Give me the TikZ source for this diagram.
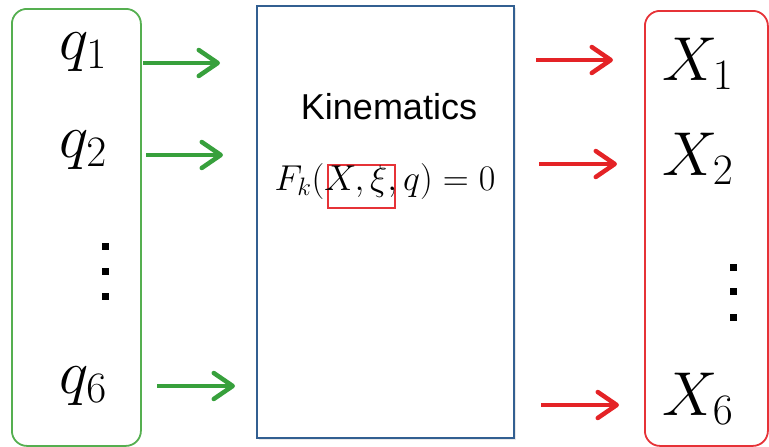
\RequirePackage{fix-cm}
\documentclass[tikz,border=0pt]{standalone}
\usepackage{fontspec}
\newfontfamily\sansfnt{Liberation Sans}
\usetikzlibrary{arrows.meta,shadows}
\definecolor{arrgreen}{RGB}{55,160,60}
\definecolor{boxgreen}{RGB}{85,175,80}
\definecolor{arrred}{RGB}{228,35,38}
\definecolor{boxred}{RGB}{230,50,55}
\definecolor{boxblue}{RGB}{50,95,145}
\begin{document}
\begin{tikzpicture}[x=1pt,y=-1pt,
  sidebox/.style={line width=1.8pt, rounded corners=15pt, inner sep=0pt, anchor=north west},
  midbox/.style={draw=boxblue, line width=2.4pt, fill=white, inner sep=0pt, anchor=north west,
     drop shadow={opacity=0.18, shadow xshift=1.5pt, shadow yshift=-2pt}},
  bigmath/.style={inner sep=0pt, anchor=base, font=\fontsize{62}{70}\selectfont},
  midtext/.style={inner sep=0pt, anchor=base, font=\fontsize{36}{42}\selectfont},
  garrow/.style={draw=arrgreen, line width=4.5pt, -{Straight Barb[length=19pt,width=26pt,round]}},
  rarrow/.style={draw=arrred, line width=4.5pt, -{Straight Barb[length=19pt,width=26pt,round]}},
  dotsq/.style={fill=black, minimum size=7pt, inner sep=0pt}]
\useasboundingbox (0,0) rectangle (769,447);
% boxes
\node[sidebox, draw=boxgreen, minimum width=129pt, minimum height=437pt] (qbox) at (11,8) {};
\node[midbox, minimum width=257pt, minimum height=432pt] (kbox) at (256,5) {};
\node[sidebox, draw=boxred, minimum width=123pt, minimum height=435pt] (xbox) at (644,10) {};
% left labels
\node[bigmath] (q1) at (83,59) {$q_1$};
\node[bigmath] (q2) at (83,157) {$q_2$};
\node[bigmath] (q6) at (83,393) {$q_6$};
\node[dotsq] (ld1) at (105,246) {};
\node[dotsq] (ld2) at (105,271) {};
\node[dotsq] (ld3) at (105,296) {};
% right labels
\node[bigmath] (x1) at (698,80) {$X_1$};
\node[bigmath] (x2) at (698,175) {$X_2$};
\node[bigmath] (x6) at (698,415) {$X_6$};
\node[dotsq] (rd1) at (733,267) {};
\node[dotsq] (rd2) at (733,291) {};
\node[dotsq] (rd3) at (733,317) {};
% middle texts
\node[midtext] (kin) at (389,119) {\sansfnt Kinematics};
\node[draw=boxred, line width=1.6pt, minimum width=67pt, minimum height=43pt, inner sep=0pt] (hl) at (361.5,186.5) {};
\node[midtext] (eq) at (385,190) {$F_k(X,\xi,q)=0$};
% arrow coordinates
\coordinate (g1a) at (143,63);  \coordinate (g1b) at (220,63);
\coordinate (g2a) at (146,155); \coordinate (g2b) at (223,155);
\coordinate (g6a) at (157,386); \coordinate (g6b) at (235,386);
\coordinate (r1a) at (536,60);  \coordinate (r1b) at (613,60);
\coordinate (r2a) at (539,164); \coordinate (r2b) at (617,164);
\coordinate (r6a) at (541,405); \coordinate (r6b) at (619,405);
\draw[garrow] (g1a) -- (g1b);
\draw[garrow] (g2a) -- (g2b);
\draw[garrow] (g6a) -- (g6b);
\draw[rarrow] (r1a) -- (r1b);
\draw[rarrow] (r2a) -- (r2b);
\draw[rarrow] (r6a) -- (r6b);
\end{tikzpicture}
\end{document}
